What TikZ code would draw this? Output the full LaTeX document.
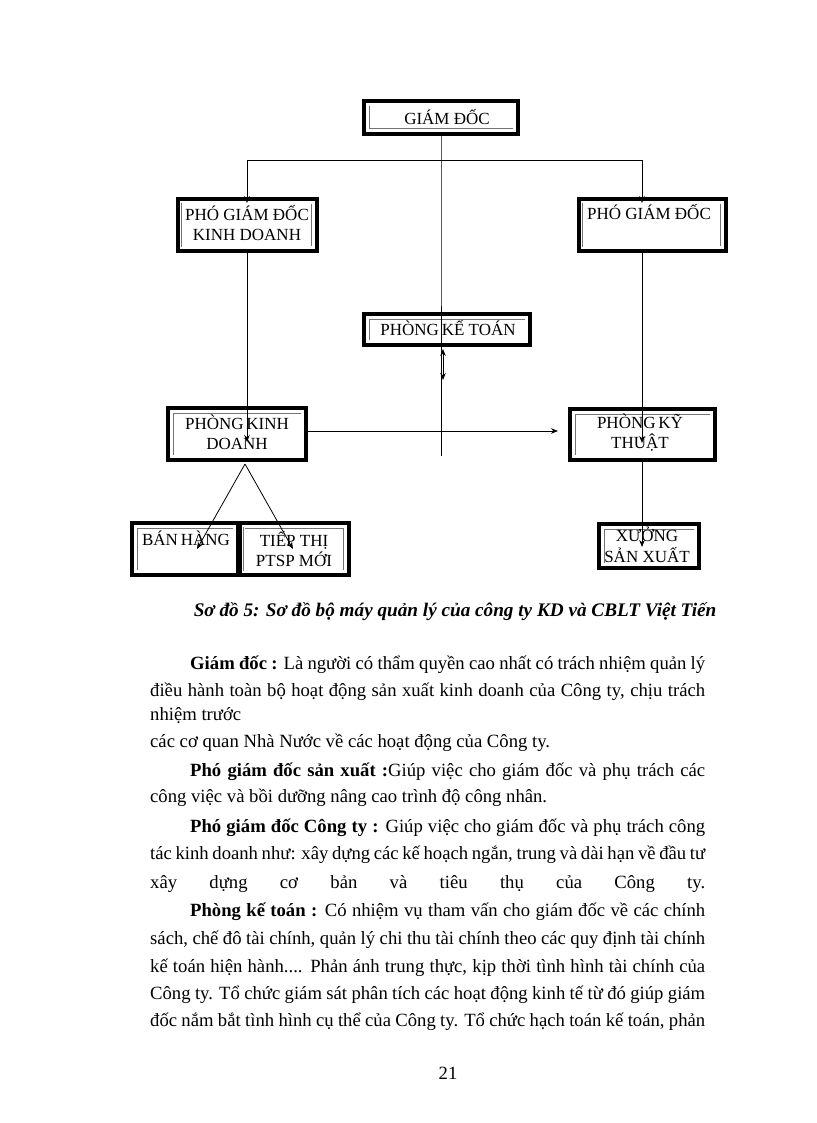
\documentclass[tikz,border=0pt]{standalone}
\usepackage{fontspec}
\setmainfont{Liberation Serif}
\usetikzlibrary{arrows.meta}
\begin{document}
\begin{tikzpicture}[x=1pt,y=-1pt,
  obox/.style={draw=black, line width=4pt, inner sep=0pt, outer sep=0pt, fill=white,
    path picture={\draw[black!55, line width=0.5pt, double=white, double distance=0.8pt]
      ([shift={(4.6pt,-4.6pt)}]path picture bounding box.north west) rectangle
      ([shift={(-4.6pt,4.6pt)}]path picture bounding box.south east);}},
  lbl/.style={font=\fontsize{17}{20.5}\selectfont, inner sep=0pt, align=center},
  conn/.style={line width=0.8pt},
  arr/.style={conn, -{Stealth[length=7pt,width=5.5pt]}},
  body/.style={font=\fontsize{18.67}{27}\selectfont, anchor=base west, inner sep=0pt},
  captxt/.style={font=\fontsize{19.2}{27}\selectfont\bfseries\itshape, anchor=base, inner sep=0pt},
]
\useasboundingbox[fill=white] (0,0) rectangle (816,1123);

% boxes
\node[obox, minimum width=154pt, minimum height=33pt] (gd) at (441,117.5) {};
\node[obox, minimum width=139pt, minimum height=52pt] (pgdkd) at (247,225) {};
\node[obox, minimum width=147pt, minimum height=52pt] (pgd) at (652,225) {};
\node[obox, minimum width=166pt, minimum height=31pt] (pkt) at (447,329.5) {};
\node[obox, minimum width=138pt, minimum height=52pt] (pkd) at (237,434) {};
\node[obox, minimum width=145pt, minimum height=51pt] (pkth) at (642.5,434.5) {};
\node[obox, minimum width=106pt, minimum height=52pt] (bh) at (185,549) {};
\node[obox, minimum width=109pt, minimum height=52pt] (tt) at (294,549) {};
\node[obox, minimum width=100pt, minimum height=44pt] (xs) at (649,546) {};

% labels
\node[lbl] (gdt) at (447,117) {GIÁM ĐỐC};
\node[lbl] (pgdkdt) at (247,223) {PHÓ GIÁM ĐỐC\\KINH DOANH};
\node[lbl] (pgdt) at (649,212) {PHÓ GIÁM ĐỐC};
\node[lbl] (pktt) at (448,328) {PHÒNG\,KẾ TOÁN};
\node[lbl] (pkdt) at (237,432.5) {PHÒNG\,KINH\\DOANH};
\node[lbl] (pktht) at (640,432.5) {PHÒNG\,KỸ\\THUẬT};
\node[lbl] (bht) at (186,538) {BÁN\,HÀNG};
\node[lbl] (ttt) at (294,549) {TIẾP THỊ\\PTSP MỚI};
\node[lbl] (xst) at (647,545) {XƯỞNG\\SẢN XUẤT};

% connector points
\coordinate (j0) at (441,160);
\coordinate (jl) at (247,160);
\coordinate (jr) at (642,160);
\coordinate (mend) at (441,456);
\coordinate (a1) at (247,203);
\coordinate (a2) at (642,203);
\coordinate (k1) at (247,442);
\coordinate (k2) at (642,443);
\coordinate (hs) at (308,431);
\coordinate (he) at (558,431);
\coordinate (apex) at (245,464);
\coordinate (b1) at (197,549);
\coordinate (b2) at (293,549);
\coordinate (x1) at (642,547);
\coordinate (kt1) at (443,349);
\coordinate (kt2) at (443,380);

% connectors
\draw[conn] (gd.south) -- (j0) -- (mend);
\draw[conn] (jl) -- (jr);
\draw[arr] (jl) -- (a1);
\draw[arr] (jr) -- (a2);
\draw[arr] (pgdkd.south) -- (k1);
\draw[arr] (pgd.south -| jr) -- (k2);
\draw[arr] (hs) -- (he);
\draw[arr] (apex) -- (b1);
\draw[arr] (apex) -- (b2);
\draw[arr] (pkth.south -| jr) -- (x1);
\draw[conn, {Stealth[length=7pt,width=5.5pt]}-{Stealth[length=7pt,width=5.5pt]}] (kt1) -- (kt2);

% caption
\node[captxt] (caption) at (455,616) {Sơ đồ 5: Sơ đồ bộ máy quản lý của công ty KD và CBLT Việt Tiến};

% body text
\node[body] (l1) at (190,669) {\makebox[515pt][s]{\textbf{Giám đốc :} Là người có thẩm quyền cao nhất có trách nhiệm quản lý}};
\node[body] (l2) at (150,696) {\makebox[555pt][s]{điều hành toàn bộ hoạt động sản xuất kinh doanh của Công ty, chịu trách}};
\node[body] (l3) at (150,720) {nhiệm trước};
\node[body] (l4) at (150,747) {các cơ quan Nhà Nước về các hoạt động của Công ty.};
\node[body] (l5) at (190,776) {\makebox[515pt][s]{\textbf{Phó giám đốc sản xuất :}Giúp việc cho giám đốc và phụ trách các}};
\node[body] (l6) at (150,802) {công việc và bồi dưỡng nâng cao trình độ công nhân.};
\node[body] (l7) at (190,832) {\makebox[515pt][s]{\textbf{Phó giám đốc Công ty :} Giúp việc cho giám đốc và phụ trách công}};
\node[body] (l8) at (150,859) {\makebox[555pt][s]{tác kinh doanh như: xây dựng các kế hoạch ngắn, trung và dài hạn về đầu tư}};
\node[body] (l9) at (150,888) {\makebox[555pt][s]{xây dựng cơ bản và tiêu thụ của Công ty.}};
\node[body] (l10) at (190,916) {\makebox[515pt][s]{\textbf{Phòng kế toán :} Có nhiệm vụ tham vấn cho giám đốc về các chính}};
\node[body] (l11) at (150,944) {\makebox[555pt][s]{sách, chế đô tài chính, quản lý chi thu tài chính theo các quy định tài chính}};
\node[body] (l12) at (150,972) {\makebox[555pt][s]{kế toán hiện hành.... Phản ánh trung thực, kịp thời tình hình tài chính của}};
\node[body] (l13) at (150,999) {\makebox[555pt][s]{Công ty. Tổ chức giám sát phân tích các hoạt động kinh tế từ đó giúp giám}};
\node[body] (l14) at (150,1026) {\makebox[555pt][s]{đốc nắm bắt tình hình cụ thể của Công ty. Tổ chức hạch toán kế toán, phản}};

\node[body, anchor=base] (pg) at (448,1079) {21};
\end{tikzpicture}
\end{document}
